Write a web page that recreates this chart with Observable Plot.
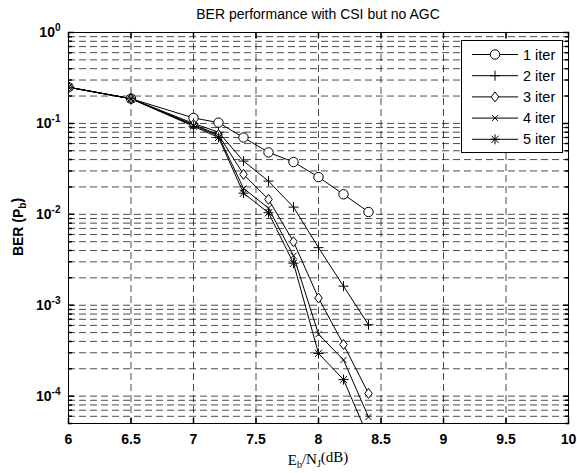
<!DOCTYPE html>
<html><head><meta charset="utf-8">
<script src="https://cdn.jsdelivr.net/npm/d3@7"></script>
<script src="https://cdn.jsdelivr.net/npm/@observablehq/plot@0.6"></script>
<style>
html,body{margin:0;padding:0;background:#fff;}
#chart{width:577px;height:473px;}
</style></head><body><div id="chart"></div>
<script>
// ---- data ----
const ebno  = [6, 6.5, 7, 7.2, 7.4, 7.6, 7.8, 8, 8.2, 8.4];
const iter1 = [0.25, 0.187, 0.115, 0.102, 0.070, 0.048, 0.0376, 0.0257, 0.0166, 0.0106];
const iter2 = [0.25, 0.187, 0.100, 0.080, 0.0385, 0.0232, 0.012, 0.0043, 0.00162, 0.00061];
const iter3 = [0.25, 0.187, 0.097, 0.075, 0.0275, 0.0146, 0.0050, 0.0012, 0.00037, 0.000107];
const iter4 = [0.25, 0.187, 0.095, 0.073, 0.0193, 0.0117, 0.0035, 0.00048, 0.00025, 0.000059];
const iter5 = [0.25, 0.187, 0.093, 0.070, 0.0171, 0.0104, 0.0029, 0.000295, 0.000152, 0.000035];
const seriesNames = ["1 iter", "2 iter", "3 iter", "4 iter", "5 iter"];
const xTicks = [6, 6.5, 7, 7.5, 8, 8.5, 9, 9.5, 10];
const yMajor = [1e-4, 1e-3, 1e-2, 1e-1, 1];
const yTickLabels = ["-4", "-3", "-2", "-1", "0"];
const titleText = "BER performance with CSI but no AGC";

const allSeries = [iter1, iter2, iter3, iter4, iter5];
const rows = [];
allSeries.forEach((vals, i) => vals.forEach((v, j) => rows.push({x: ebno[j], ber: v, series: seriesNames[i]})));

const yDomain = [5e-5, 1];
const yMinor = [];
for (let e = -5; e <= 0; e++) for (let m = 1; m <= 9; m++) {
  const v = m * Math.pow(10, e);
  if (v >= yDomain[0] * 0.999 && v <= yDomain[1] * 1.001) yMinor.push(v);
}
const yGrid = yMinor.filter(v => v > yDomain[0] * 1.001 && v < yDomain[1] * 0.999);
const xGrid = xTicks.filter(v => v > 6 && v < 10);
const yMinorOnly = yMinor.filter(v => !yMajor.some(m => Math.abs(m - v) / m < 1e-6));

// ---- marker shapes (MATLAB style) ----
const symCircle = {draw(c){ c.moveTo(4.7,0); c.arc(0,0,4.7,0,2*Math.PI); }};
const symPlus = {draw(c){ c.moveTo(-5,0); c.lineTo(5,0); c.moveTo(0,-5); c.lineTo(0,5); }};
const symDiamond = {draw(c){ c.moveTo(0,-5); c.lineTo(3.8,0); c.lineTo(0,5); c.lineTo(-3.8,0); c.closePath(); }};
const symTimes = {draw(c){ c.moveTo(-3,-3); c.lineTo(3,3); c.moveTo(-3,3); c.lineTo(3,-3); }};
const symStar = {draw(c){ c.moveTo(-5,0); c.lineTo(5,0); c.moveTo(0,-5); c.lineTo(0,5);
  c.moveTo(-3.6,-3.6); c.lineTo(3.6,3.6); c.moveTo(-3.6,3.6); c.lineTo(3.6,-3.6); }};
const symbols = [symCircle, symPlus, symDiamond, symTimes, symStar];
const fills = ["white", "none", "white", "none", "none"];

const tickShape = {draw(c, l){ c.moveTo(0,0); c.lineTo(0,-l); }};
const gridStyle = {stroke: "#000", strokeOpacity: 0.7, strokeWidth: 1, strokeDasharray: "7,4"};

const dotMarks = seriesNames.map((name, i) =>
  Plot.dot(rows.filter(d => d.series === name), {
    x: "x", y: "ber", symbol: symbols[i], r: 5, stroke: "black", fill: fills[i], strokeWidth: 1, clip: true
  }));

const plot = Plot.plot({
  width: 577, height: 473,
  marginLeft: 68, marginRight: 9, marginTop: 32, marginBottom: 50,
  style: {fontFamily: "'Liberation Sans', Arial, sans-serif", fontSize: "14px", color: "black", background: "white"},
  x: {domain: [6, 10], label: null},
  y: {type: "log", domain: yDomain, label: null},
  marks: [
    Plot.ruleX(xGrid, gridStyle),
    Plot.ruleY(yGrid, gridStyle),
    Plot.line(rows, {x: "x", y: "ber", z: "series", stroke: "black", strokeWidth: 1, clip: true}),
    ...dotMarks,
    Plot.frame({stroke: "black", strokeWidth: 1}),
    Plot.vectorX(xTicks, {x: d => d, frameAnchor: "bottom", rotate: 0, length: 5, anchor: "start", shape: tickShape, stroke: "black"}),
    Plot.vectorX(xTicks, {x: d => d, frameAnchor: "top", rotate: 180, length: 5, anchor: "start", shape: tickShape, stroke: "black"}),
    Plot.vectorY(yMajor, {y: d => d, frameAnchor: "left", rotate: 90, length: 5, anchor: "start", shape: tickShape, stroke: "black"}),
    Plot.vectorY(yMajor, {y: d => d, frameAnchor: "right", rotate: -90, length: 5, anchor: "start", shape: tickShape, stroke: "black"}),
    Plot.vectorY(yMinorOnly, {y: d => d, frameAnchor: "left", rotate: 90, length: 3, anchor: "start", shape: tickShape, stroke: "black"}),
    Plot.vectorY(yMinorOnly, {y: d => d, frameAnchor: "right", rotate: -90, length: 3, anchor: "start", shape: tickShape, stroke: "black"}),
    Plot.axisX({ticks: xTicks, tickSize: 0, tickPadding: 11, fontWeight: "bold", label: null, tickFormat: d => String(d)}),
    Plot.axisY({ticks: yMajor, tickSize: 0, tickPadding: 8, fontWeight: "bold", label: null,
      tickFormat: d => "10|" + yTickLabels[yMajor.indexOf(d)]})
  ]
});

document.getElementById("chart").appendChild(plot);
const svg = d3.select(plot);

// superscripts for y tick labels
svg.selectAll("g[aria-label='y-axis tick label'] text").each(function() {
  const t = d3.select(this);
  const parts = t.text().split("|");
  t.text(null);
  t.append("tspan").text(parts[0]);
  t.append("tspan").attr("dy", "-0.55em").attr("font-size", "10px").text(parts[1]);
});

// title
svg.append("text").attr("x", 318).attr("y", 19).attr("text-anchor", "middle")
  .attr("font-family", "'Liberation Sans', Arial, sans-serif").attr("font-size", "14px").attr("fill", "black")
  .text(titleText);

// y label
const yl = svg.append("text").attr("transform", "translate(23,227) rotate(-90)").attr("text-anchor", "middle")
  .attr("font-family", "'Liberation Sans', Arial, sans-serif").attr("font-size", "14px").attr("font-weight", "bold").attr("fill", "black");
yl.append("tspan").text("BER (P");
yl.append("tspan").attr("dy", "0.3em").attr("font-size", "10px").text("b");
yl.append("tspan").attr("dy", "-0.3em").text(")");

// x label
const xl = svg.append("text").attr("x", 318).attr("y", 465).attr("text-anchor", "middle")
  .attr("font-family", "'Liberation Serif', 'Times New Roman', serif").attr("font-size", "15px").attr("fill", "black");
xl.append("tspan").text("E");
xl.append("tspan").attr("dy", "0.3em").attr("font-size", "10px").text("b");
xl.append("tspan").attr("dy", "-0.3em").text("/N");
xl.append("tspan").attr("dy", "0.3em").attr("font-size", "10px").text("J");
xl.append("tspan").attr("dy", "-0.3em").text("(dB)");

// legend
const lg = svg.append("g");
lg.append("rect").attr("x", 461.5).attr("y", 40.5).attr("width", 101).attr("height", 112)
  .attr("fill", "white").attr("stroke", "black");
seriesNames.forEach((name, i) => {
  const y = 54.5 + i * 21.2;
  lg.append("line").attr("x1", 472).attr("x2", 518).attr("y1", y).attr("y2", y).attr("stroke", "black");
  lg.append("path").attr("d", d3.symbol().type(symbols[i])()).attr("transform", `translate(495,${y})`)
    .attr("fill", fills[i]).attr("stroke", "black");
  lg.append("text").attr("x", 523).attr("y", y).attr("dy", "0.35em").attr("text-anchor", "start")
    .attr("font-family", "'Liberation Sans', Arial, sans-serif").attr("font-size", "14.5px").attr("fill", "black").text(name);
});
</script></body></html>
